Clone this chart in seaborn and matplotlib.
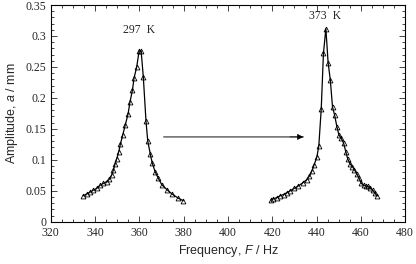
import numpy as np
import pandas as pd
import seaborn as sns
import matplotlib.pyplot as plt
from matplotlib.ticker import MultipleLocator

# 297 K resonance curve
freq_297 = [334.7, 336.3, 337.8, 339.2, 340.8, 342.3, 343.8, 345.3, 346.5, 347.6,
            348.3, 349.0, 349.8, 350.7, 351.4, 352.5, 353.6, 354.9, 355.8, 356.9,
            357.6, 358.8, 359.9, 360.8, 361.8, 363.0, 363.8, 364.9, 365.8, 367.1,
            368.6, 370.1, 372.4, 374.7, 377.6, 379.9]
amp_297 = [0.042, 0.045, 0.048, 0.051, 0.054, 0.059, 0.062, 0.065, 0.069, 0.076,
           0.084, 0.093, 0.102, 0.113, 0.125, 0.140, 0.156, 0.174, 0.194, 0.213,
           0.232, 0.250, 0.276, 0.276, 0.233, 0.162, 0.130, 0.110, 0.095, 0.081,
           0.070, 0.060, 0.052, 0.045, 0.038, 0.034]

# 373 K resonance curve
freq_373 = [419.4, 420.5, 422.1, 423.6, 425.1, 426.6, 428.1, 429.9, 431.8, 433.8,
            435.6, 436.8, 437.9, 438.9, 440.1, 441.0, 442.1, 443.1, 444.2, 445.2,
            446.2, 447.2, 448.1, 449.2, 450.1, 451.1, 452.2, 453.2, 454.1, 455.2,
            456.2, 457.1, 458.2, 459.2, 460.2, 461.2, 462.3, 463.2, 464.2, 465.3,
            466.2, 467.2]
amp_373 = [0.035, 0.037, 0.039, 0.042, 0.044, 0.047, 0.050, 0.054, 0.058, 0.063,
           0.068, 0.074, 0.082, 0.092, 0.104, 0.122, 0.182, 0.272, 0.312, 0.257,
           0.229, 0.185, 0.173, 0.153, 0.140, 0.135, 0.127, 0.113, 0.101, 0.093,
           0.089, 0.084, 0.077, 0.070, 0.062, 0.059, 0.058, 0.057, 0.055, 0.051,
           0.047, 0.042]

df = pd.concat([
    pd.DataFrame({"F": freq_297, "a": amp_297, "T": "297 K"}),
    pd.DataFrame({"F": freq_373, "a": amp_373, "T": "373 K"}),
])

sns.set_style("ticks")
plt.rcParams["mathtext.fontset"] = "custom"
plt.rcParams["mathtext.it"] = "Liberation Sans:italic"
plt.rcParams["mathtext.rm"] = "Liberation Sans"

fig = plt.figure(figsize=(4.16, 2.64), dpi=100)
ax = fig.add_axes([0.122, 0.160, 0.852, 0.821])

for t, sub in df.groupby("T"):
    sns.lineplot(data=sub, x="F", y="a", ax=ax, color="black", lw=0.9,
                 marker="^", markersize=3.5, markerfacecolor="none",
                 markeredgecolor="black", markeredgewidth=0.6, legend=False)

serif = "Liberation Serif"
sans = "Liberation Sans"

ax.text(360, 0.300, "297  K", ha="center", va="bottom", fontsize=8.5, family=serif)
ax.text(444, 0.323, "373  K", ha="center", va="bottom", fontsize=8.5, family=serif)

# shift arrow: grey shaft, black head
ax.annotate("", xy=(434, 0.137), xytext=(371, 0.137),
            arrowprops=dict(arrowstyle="-", color="#555555", lw=1.0,
                            shrinkA=0, shrinkB=0))
ax.annotate("", xy=(434, 0.137), xytext=(428, 0.137),
            arrowprops=dict(arrowstyle="-|>", color="black", lw=0.5,
                            mutation_scale=9, shrinkA=0, shrinkB=0))

ax.set_xlim(320, 480)
ax.set_ylim(0, 0.35)
ax.xaxis.set_major_locator(MultipleLocator(20))
ax.xaxis.set_minor_locator(MultipleLocator(5))
ax.yaxis.set_minor_locator(MultipleLocator(0.01))
ax.set_yticks(np.arange(0, 0.351, 0.05))
ax.set_yticklabels(["0", "0.05", "0.1", "0.15", "0.2", "0.25", "0.3", "0.35"])
ax.tick_params(which="both", direction="in", top=True, right=True,
               labelsize=8.5, width=0.6)
ax.tick_params(axis="x", pad=4)
ax.tick_params(axis="y", pad=3)
ax.tick_params(which="major", length=4)
ax.tick_params(which="minor", length=2)
for lab in ax.get_xticklabels() + ax.get_yticklabels():
    lab.set_family(serif)
for s in ax.spines.values():
    s.set_linewidth(0.8)
    s.set_color("black")

ax.set_xlabel("Frequency, $\\it{F}$ / Hz", fontsize=9, family=sans, labelpad=3)
ax.set_ylabel("Amplitude, $\\it{a}$ / mm", fontsize=9, family=sans, labelpad=4)

fig.savefig("out.png", dpi=100)
